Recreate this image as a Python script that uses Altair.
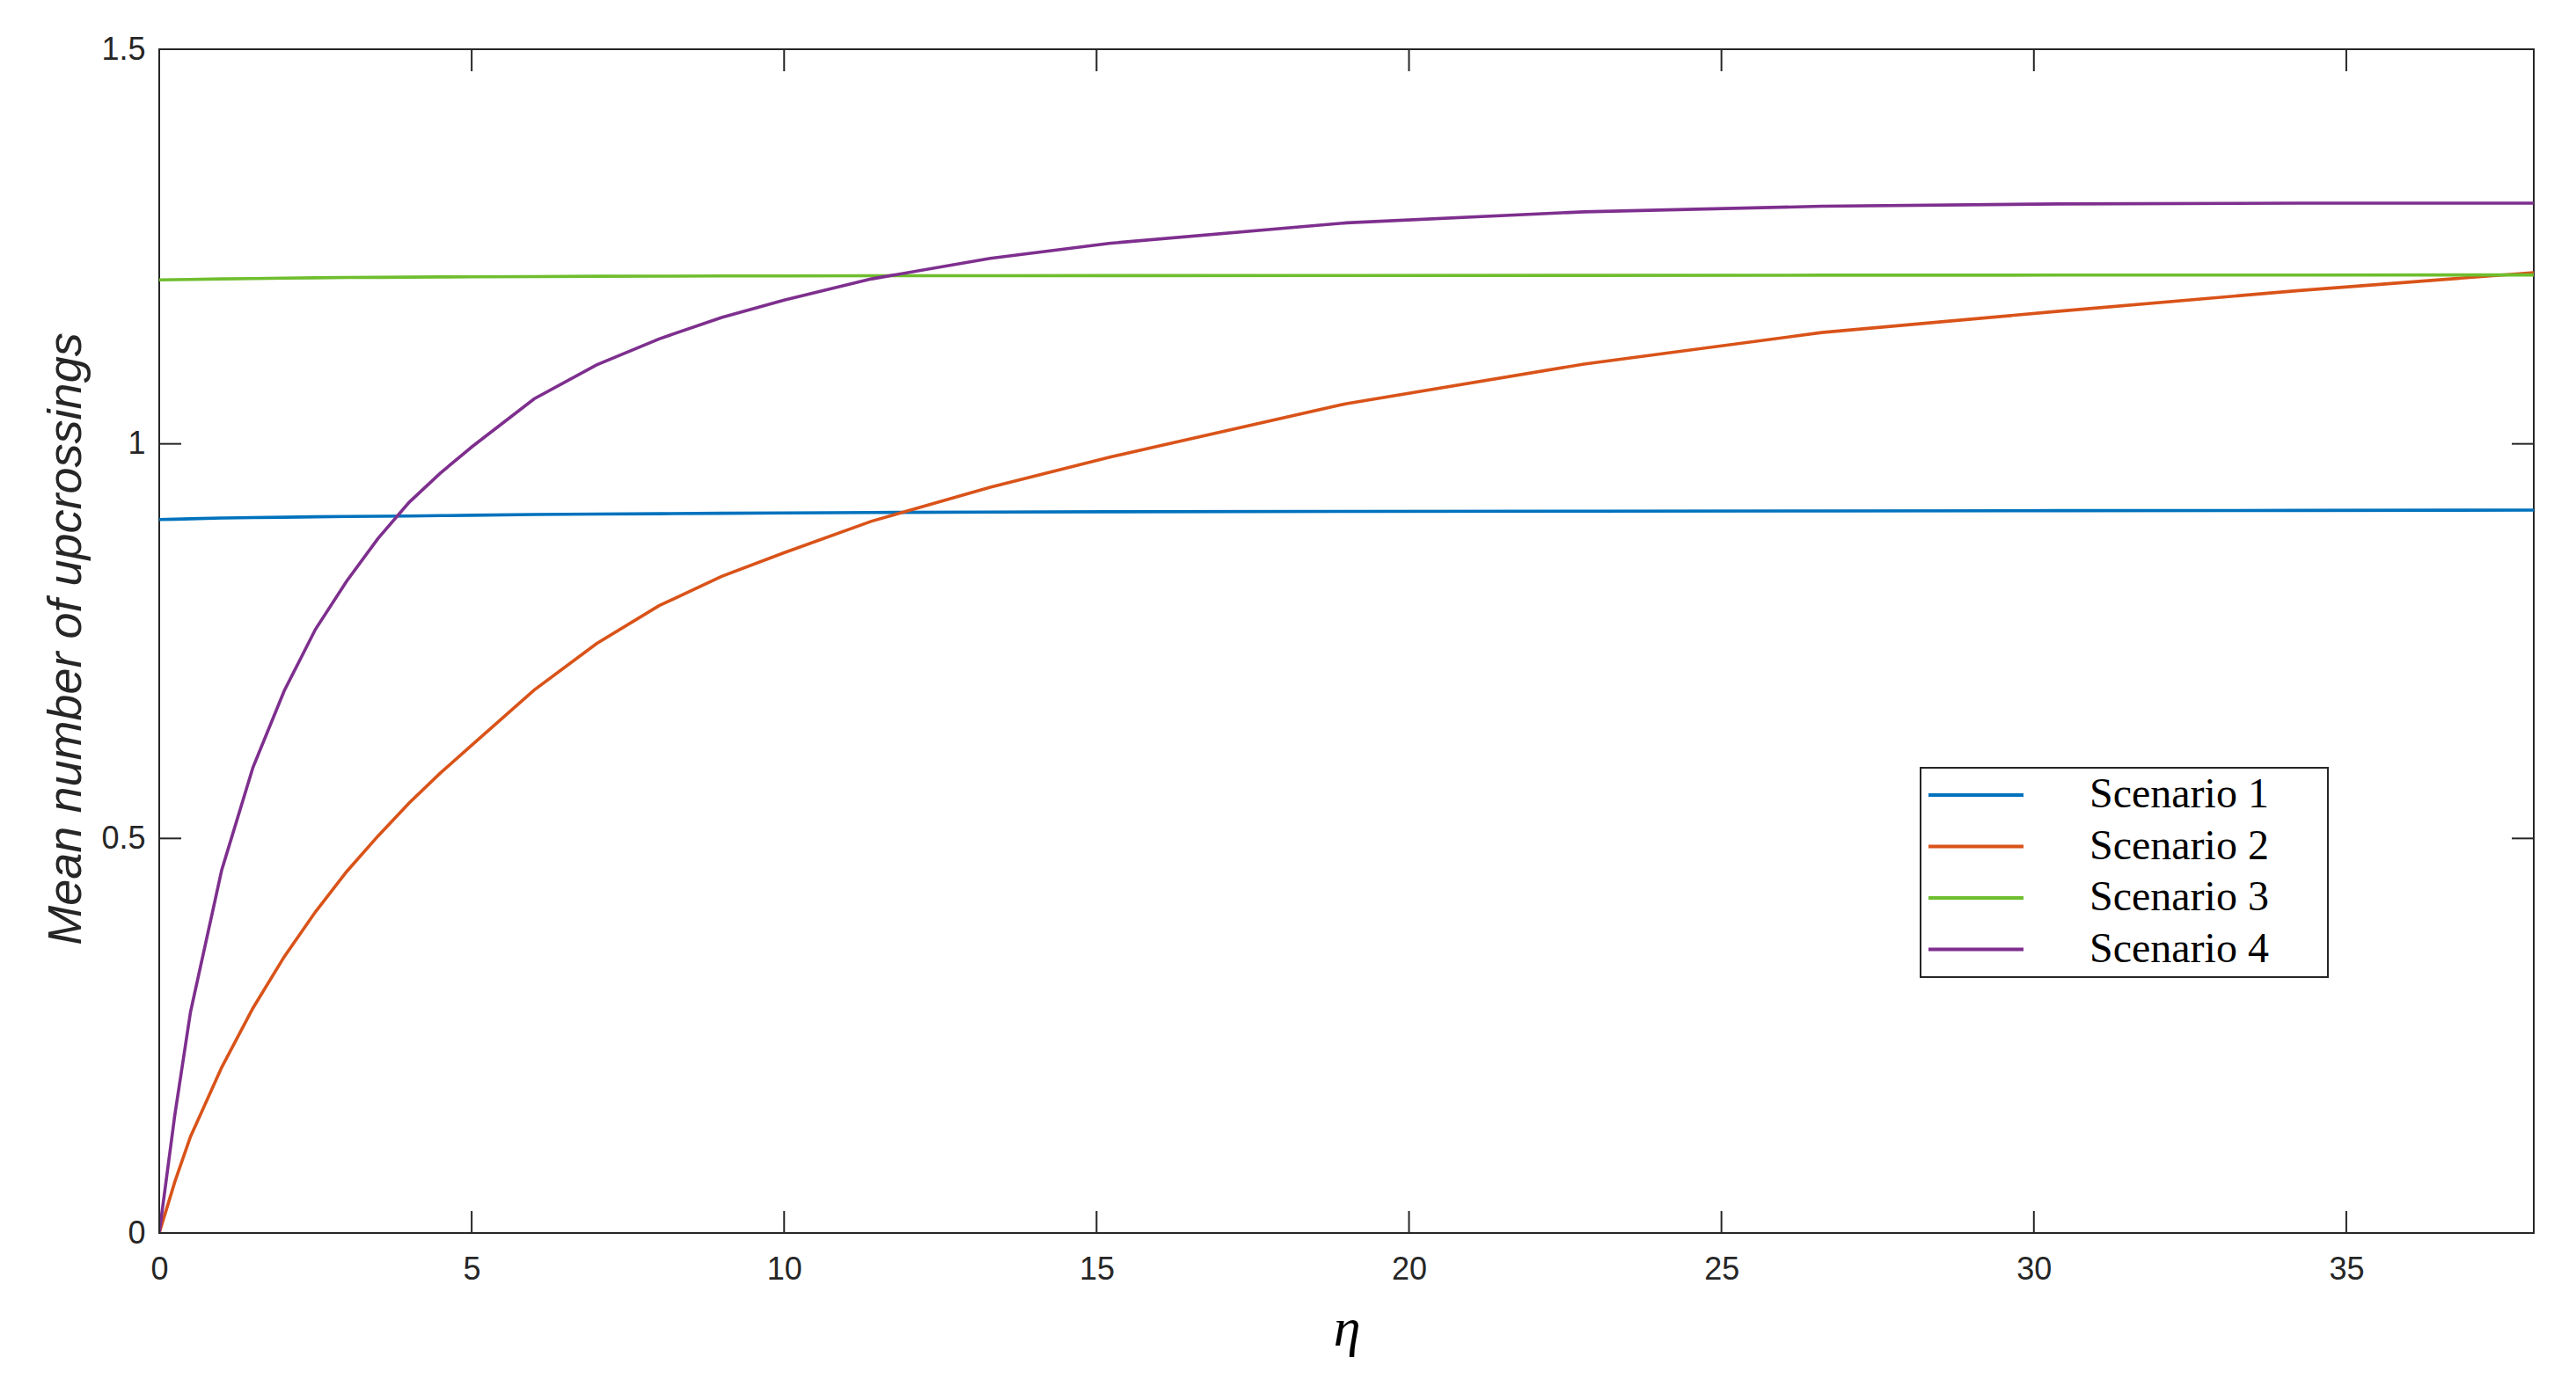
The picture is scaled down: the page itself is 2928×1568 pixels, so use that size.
import altair as alt
import pandas as pd

# ---- data ----
eta = [0, 0.25, 0.5, 1, 1.5, 2, 2.5, 3, 3.5, 4, 4.5, 5, 6, 7, 8, 9, 10,
       11.4, 13.3, 15.2, 19, 22.8, 26.6, 30.4, 34.2, 38]
scenario1 = [0.904, 0.9045, 0.905, 0.906, 0.9065, 0.907, 0.9075, 0.908, 0.9083, 0.9086,
             0.909, 0.9095, 0.9105, 0.911, 0.9115, 0.912, 0.9125, 0.913, 0.9135, 0.914,
             0.9143, 0.9146, 0.915, 0.9153, 0.9156, 0.916]
scenario2 = [0.0, 0.065, 0.122, 0.21, 0.285, 0.35, 0.407, 0.458, 0.503, 0.545,
             0.583, 0.618, 0.688, 0.747, 0.795, 0.832, 0.862, 0.902, 0.945, 0.983,
             1.051, 1.101, 1.141, 1.168, 1.194, 1.217]
scenario3 = [1.2077, 1.208, 1.2083, 1.209, 1.2095, 1.210, 1.2104, 1.2108, 1.211, 1.2112,
             1.2115, 1.2117, 1.212, 1.2123, 1.2125, 1.2127, 1.2128, 1.213, 1.2131, 1.2132,
             1.2134, 1.2135, 1.2137, 1.2138, 1.2139, 1.214]
scenario4 = [0.0, 0.15, 0.28, 0.46, 0.59, 0.687, 0.765, 0.826, 0.880, 0.926,
             0.963, 0.996, 1.057, 1.100, 1.133, 1.160, 1.182, 1.209, 1.235, 1.254,
             1.280, 1.294, 1.301, 1.304, 1.305, 1.305]

series_names = ["Scenario 1", "Scenario 2", "Scenario 3", "Scenario 4"]
series_colors = ["#0072BD", "#D95319", "#6FBE2E", "#7E2F8E"]

x_ticks = [0, 5, 10, 15, 20, 25, 30, 35]
y_ticks = [0, 0.5, 1, 1.5]

# ---- layout constants ----
W, H = 2699, 1346
TICK = 25
AXIS_COLOR = "#262626"

rows = []
for name, vals in zip(series_names, [scenario1, scenario2, scenario3, scenario4]):
    for xv, yv in zip(eta, vals):
        rows.append({"eta": xv, "value": yv, "series": name})
df = pd.DataFrame(rows)
xt = pd.DataFrame({"eta": x_ticks})
yt = pd.DataFrame({"value": y_ticks})

xscale = alt.Scale(domain=[0, 38], nice=False, zero=False)
yscale = alt.Scale(domain=[0, 1.5], nice=False, zero=False)

x_axis = alt.Axis(
    values=x_ticks, format="~g", ticks=False, domain=False, grid=False,
    labelPadding=24, labelFont="Liberation Sans", labelFontSize=36,
    labelColor=AXIS_COLOR, labelFlush=False, labelOverlap=False,
    title="η", titleFont="Liberation Serif", titleFontStyle="italic",
    titleFontWeight="normal", titleFontSize=62, titleColor="black",
    titleX=W / 2, titleY=127, titleAlign="center", titleBaseline="alphabetic",
)
y_axis = alt.Axis(
    values=y_ticks, format="~g", ticks=False, domain=False, grid=False,
    labelPadding=16, labelFont="Liberation Sans", labelFontSize=36,
    labelColor=AXIS_COLOR, labelFlush=False, labelOverlap=False,
    title="Mean number of upcrossings", titleFont="Liberation Sans",
    titleFontStyle="italic", titleFontWeight="normal", titleFontSize=54,
    titleColor=AXIS_COLOR, titleAngle=270, titleX=-90, titleY=670,
    titleAlign="center", titleBaseline="alphabetic",
)

lines = alt.Chart(df).mark_line(strokeWidth=3.6, clip=True).encode(
    x=alt.X("eta:Q", scale=xscale, axis=x_axis),
    y=alt.Y("value:Q", scale=yscale, axis=y_axis),
    color=alt.Color(
        "series:N",
        scale=alt.Scale(domain=series_names, range=series_colors),
        legend=alt.Legend(
            title=None, orient="none", legendX=2002, legendY=817,
            strokeColor=AXIS_COLOR, fillColor="white", padding=7,
            symbolType="stroke", symbolSize=11664, symbolStrokeWidth=3.8,
            symbolOffset=0, labelFont="Liberation Serif", labelFontSize=48,
            labelColor="black", labelOffset=73, rowPadding=10.5,
            clipHeight=48, labelLimit=1000,
            labelExpr="datum.label + '\u00a0\u00a0\u00a0\u00a0\u00a0\u200b'",
        ),
    ),
)

tick_style = dict(color=AXIS_COLOR, strokeWidth=2)
bottom_ticks = alt.Chart(xt).mark_rule(**tick_style).encode(
    x=alt.X("eta:Q", scale=xscale), y=alt.value(H), y2=alt.value(H - TICK))
top_ticks = alt.Chart(xt).mark_rule(**tick_style).encode(
    x=alt.X("eta:Q", scale=xscale), y=alt.value(0), y2=alt.value(TICK))
left_ticks = alt.Chart(yt).mark_rule(**tick_style).encode(
    y=alt.Y("value:Q", scale=yscale), x=alt.value(0), x2=alt.value(TICK))
right_ticks = alt.Chart(yt).mark_rule(**tick_style).encode(
    y=alt.Y("value:Q", scale=yscale), x=alt.value(W), x2=alt.value(W - TICK))

chart = alt.layer(lines, bottom_ticks, top_ticks, left_ticks, right_ticks).properties(
    width=W, height=H,
    autosize=alt.AutoSizeParams(type="none"),
    padding={"left": 173, "top": 48, "right": 40, "bottom": 150},
    background="white",
).configure_view(stroke=AXIS_COLOR, strokeWidth=2).configure_legend(strokeWidth=2)

chart.save("out.html", embed_options={"renderer": "svg", "actions": False})
